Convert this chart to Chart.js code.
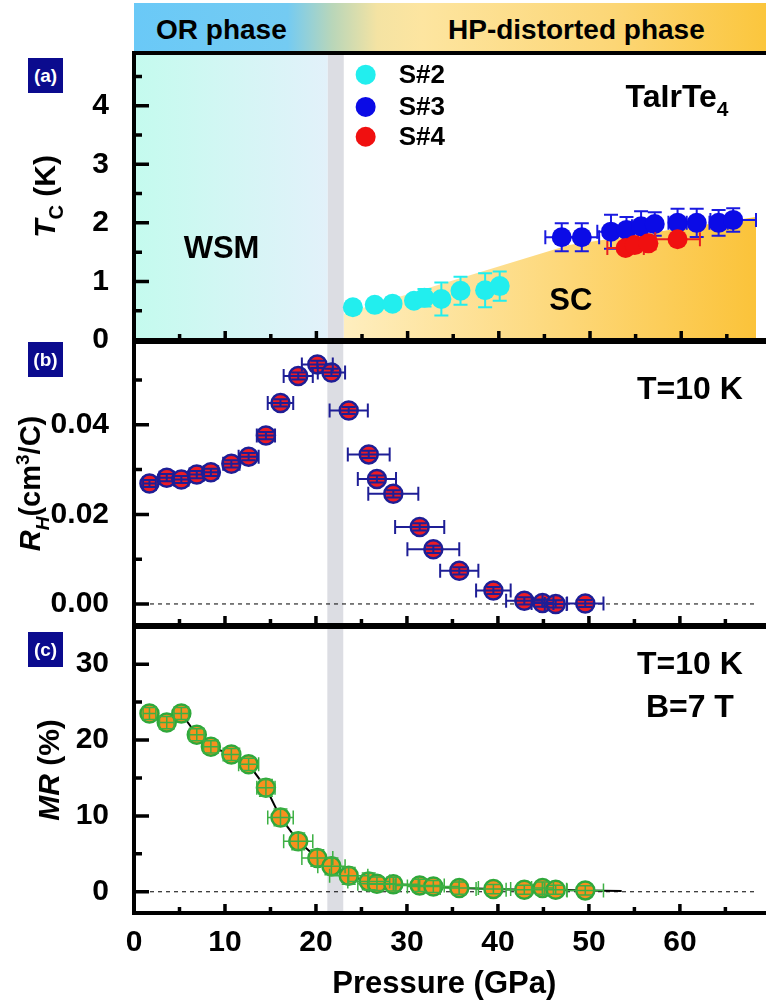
<!DOCTYPE html>
<html>
<head>
<meta charset="utf-8">
<title>TaIrTe4 under pressure</title>
<script src="https://cdn.jsdelivr.net/npm/chart.js@4.4.1/dist/chart.umd.min.js"></script>
<style>
  body { margin: 0; background: #fff; }
  #page { position: relative; width: 766px; height: 1003px; overflow: hidden; font-family: "Liberation Sans", Arial, sans-serif; }
  canvas { position: absolute; left: 0; }
  #phaseBar { position: absolute; left: 134px; top: 3px; width: 640px; height: 49px;
    background: linear-gradient(90deg, #6ac9f7 0%, #74cbf2 24%, #b9d6b9 31%, #f4e3a3 38%, #fde5a0 45%, #fcd676 75%, #fbc53a 100%); }
  .phaseText { position: absolute; top: 16px; font-weight: bold; font-size: 28px; line-height: 28px; color: #000; }
  .tag { position: absolute; left: 28px; width: 35px; height: 35px; background: #0b0b8e; color: #fff;
    font-weight: bold; font-size: 19px; text-align: center; line-height: 35px; }
</style>
</head>
<body>
<div id="page">
  <div id="phaseBar"></div>
  <div class="phaseText" style="left:156px">OR phase</div>
  <div class="phaseText" style="left:448px">HP-distorted phase</div>
  <canvas id="tcChart" width="766" height="380" style="top:0px"></canvas>
  <canvas id="rhChart" width="766" height="365" style="top:300px"></canvas>
  <canvas id="mrChart" width="766" height="418" style="top:585px"></canvas>
  <div class="tag" style="top:58px">(a)</div>
  <div class="tag" style="top:342px">(b)</div>
  <div class="tag" style="top:632px">(c)</div>
</div>
<script>
const FONT = '"Liberation Sans", Arial, sans-serif';

// pressure axis (GPa)
const xMax = 68.2;
const xMajor = [0, 10, 20, 30, 40, 50, 60];
const xMinor = [5, 15, 25, 35, 45, 55, 65];
const grayBand = [21.25, 23.0];

// (a) Tc vs pressure
const tcTicks = [0, 1, 2, 3, 4];
const tcMinor = [0.5, 1.5, 2.5, 3.5, 4.5];
const s2P = [24.0, 26.4, 28.35, 30.7, 31.85, 33.7, 35.8, 38.5, 40.1];
const s2Tc = [0.56, 0.60, 0.62, 0.67, 0.72, 0.70, 0.84, 0.85, 0.92];
const s2TcErr = [0, 0, 0.1, 0.1, 0.15, 0.28, 0.24, 0.29, 0.25];
const s3P = [46.9, 49.1, 52.3, 54.0, 55.6, 57.1, 59.6, 61.7, 64.1, 65.7];
const s3Tc = [1.755, 1.755, 1.85, 1.88, 1.94, 1.98, 2.0, 2.0, 2.0, 2.05];
const s3TcErr = [0.24, 0.24, 0.29, 0.22, 0.26, 0.2, 0.24, 0.24, 0.22, 0.2];
const s3PErr = [1.8, 1.9, 1.5, 0.6, 1.0, 0.6, 1.0, 0.6, 1.0, 2.5];
const s4P = [53.9, 54.9, 56.4, 59.6];
const s4Tc = [1.57, 1.62, 1.65, 1.72];
const s4PErr = [2.0, 0.6, 0.8, 2.45];
const wsmEndP = 21.25;
const scEdgeP = [23.0, 47.7, 68.2];
const scEdgeTc = [0.45, 1.62, 2.1];

// (b) Hall coefficient, T = 10 K and (c) MR, T = 10 K, B = 7 T
const pressure = [1.7, 3.6, 5.2, 6.9, 8.45, 10.7, 12.6, 14.5, 16.1, 18.05, 20.15, 21.7,
                  23.6, 25.8, 26.7, 28.5, 31.4, 32.9, 35.75, 39.5, 42.9, 44.9, 46.35, 49.6];
const pressureErr = [0.7, 0.8, 0.8, 0.8, 0.8, 0.9, 1.1, 1.0, 1.4, 1.6, 1.7, 1.5,
                     2.1, 2.3, 2.1, 2.75, 2.7, 2.85, 2.1, 1.9, 2.0, 1.2, 1.2, 2.0];
const rhTicks = [0, 0.02, 0.04];
const rhMinor = [0.01, 0.03, 0.05];
const rh = [0.0269, 0.0282, 0.0278, 0.0289, 0.0294, 0.0313, 0.0329, 0.0376, 0.0449, 0.0509, 0.0535, 0.0517,
            0.0432, 0.0334, 0.0279, 0.0246, 0.0172, 0.0122, 0.0074, 0.0030, 0.0007, 0.0002, 0.0000, 0.0001];
const rhErr = [0.0008, 0.0008, 0.0008, 0.0008, 0.0008, 0.0008, 0.0008, 0.0008, 0.0008, 0.0008, 0.0008, 0.0008,
               0.0008, 0.0008, 0.0008, 0.0008, 0.0008, 0.0008, 0.0008, 0.0008, 0.0008, 0.0008, 0.0008, 0.0008];
const mrTicks = [0, 10, 20, 30];
const mrMinor = [5, 15, 25];
const mr = [23.5, 22.3, 23.5, 20.7, 19.1, 18.1, 16.8, 13.7, 9.8, 6.65, 4.45, 3.35,
            2.1, 1.36, 1.05, 1.0, 0.84, 0.7, 0.48, 0.35, 0.26, 0.48, 0.26, 0.18];
const mrErr = [0.8, 0.8, 0.8, 0.8, 0.8, 0.8, 0.8, 1.1, 1.1, 1.1, 1.1, 1.1,
               1.1, 1.1, 0.9, 0.9, 0.8, 0.8, 0.8, 0.6, 0.6, 0.8, 0.6, 0.6];
const mrGuideEndP = 53.6;
const mrGuideEndMR = 0.1;

const pts = (xs, ys) => xs.map((x, i) => ({ x: x, y: ys[i] }));

// text with italic / sub / superscript pieces
function drawRich(ctx, parts, x, y, size, align) {
  const fonts = parts.map(p => {
    const sz = (p.sub || p.sup) ? Math.round(size * 0.65) : size;
    return (p.i ? 'italic ' : '') + 'bold ' + sz + 'px ' + FONT;
  });
  let w = 0;
  parts.forEach((p, k) => { ctx.font = fonts[k]; w += ctx.measureText(p.t).width; });
  let cx = align === 'center' ? x - w / 2 : (align === 'right' ? x - w : x);
  ctx.textAlign = 'left';
  ctx.textBaseline = 'alphabetic';
  ctx.fillStyle = '#000';
  parts.forEach((p, k) => {
    ctx.font = fonts[k];
    const dy = p.sub ? size * 0.28 : (p.sup ? -size * 0.4 : 0);
    ctx.fillText(p.t, cx, y + dy);
    cx += ctx.measureText(p.t).width;
  });
}

function drawErrorBars(chart, ds) {
  const ctx = chart.ctx, xs = chart.scales.x, ys = chart.scales.y;
  const cap = ds.errCap || 6;
  ctx.save();
  ctx.strokeStyle = ds.errColor;
  ctx.lineWidth = ds.errWidth || 2;
  ds.data.forEach((pt, i) => {
    const px = xs.getPixelForValue(pt.x), py = ys.getPixelForValue(pt.y);
    const ex = ds.errX ? ds.errX[i] : 0, ey = ds.errY ? ds.errY[i] : 0;
    ctx.beginPath();
    if (ex) {
      const l = xs.getPixelForValue(pt.x - ex), r = xs.getPixelForValue(pt.x + ex);
      ctx.moveTo(l, py); ctx.lineTo(r, py);
      ctx.moveTo(l, py - cap); ctx.lineTo(l, py + cap);
      ctx.moveTo(r, py - cap); ctx.lineTo(r, py + cap);
    }
    if (ey) {
      const t = ys.getPixelForValue(pt.y + ey), b = ys.getPixelForValue(pt.y - ey);
      ctx.moveTo(px, t); ctx.lineTo(px, b);
      ctx.moveTo(px - cap, t); ctx.lineTo(px + cap, t);
      ctx.moveTo(px - cap, b); ctx.lineTo(px + cap, b);
    }
    ctx.stroke();
  });
  ctx.restore();
}

const errorBarPlugin = {
  id: 'errorBars',
  beforeDatasetDraw(chart, args) {
    const ds = chart.data.datasets[args.index];
    if ((ds.errX || ds.errY) && !ds.errOnTop) drawErrorBars(chart, ds);
  },
  afterDatasetDraw(chart, args) {
    const ds = chart.data.datasets[args.index];
    if ((ds.errX || ds.errY) && ds.errOnTop) drawErrorBars(chart, ds);
  }
};

// shaded regions behind the data
const regionPlugin = {
  id: 'regions',
  beforeDatasetsDraw(chart, args, opts) {
    const { ctx, chartArea: a, scales: { x, y } } = chart;
    ctx.save();
    if (opts.wsm) {
      const x0 = x.getPixelForValue(0), x1 = x.getPixelForValue(wsmEndP);
      const g = ctx.createLinearGradient(x0, 0, x1, 0);
      g.addColorStop(0, '#c4fbee');
      g.addColorStop(1, '#e2f1fa');
      ctx.fillStyle = g;
      ctx.fillRect(x0, a.top, x1 - x0, a.bottom - a.top);
    }
    const b0 = x.getPixelForValue(grayBand[0]), b1 = x.getPixelForValue(grayBand[1]);
    ctx.fillStyle = '#dcdde3';
    ctx.fillRect(b0, a.top, b1 - b0, a.bottom - a.top);
    if (opts.zeroLine) {
      const py = y.getPixelForValue(0);
      ctx.strokeStyle = '#000';
      ctx.lineWidth = 1;
      ctx.setLineDash([4, 4]);
      ctx.beginPath();
      ctx.moveTo(a.left, py); ctx.lineTo(a.right, py);
      ctx.stroke();
    }
    ctx.restore();
  }
};

// axis frame with inward ticks, titles and notes
const framePlugin = {
  id: 'frame',
  afterDatasetsDraw(chart, args, opts) {
    const { ctx, chartArea: a, scales: { x, y } } = chart;
    ctx.save();
    ctx.strokeStyle = '#000';
    ctx.lineWidth = 4;
    ctx.lineCap = 'square';
    ctx.beginPath();
    ctx.moveTo(a.right + 10, a.top); ctx.lineTo(a.left, a.top);
    ctx.lineTo(a.left, a.bottom); ctx.lineTo(a.right + 10, a.bottom);
    ctx.stroke();
    ctx.lineCap = 'butt';
    ctx.lineWidth = 3.5;
    ctx.beginPath();
    xMajor.forEach(v => { if (v > 0) { const p = x.getPixelForValue(v); ctx.moveTo(p, a.bottom); ctx.lineTo(p, a.bottom - 9); } });
    xMinor.forEach(v => { const p = x.getPixelForValue(v); ctx.moveTo(p, a.bottom); ctx.lineTo(p, a.bottom - 6); });
    opts.yMajor.forEach(v => { const p = y.getPixelForValue(v); ctx.moveTo(a.left, p); ctx.lineTo(a.left + 15, p); });
    opts.yMinor.forEach(v => { const p = y.getPixelForValue(v); ctx.moveTo(a.left, p); ctx.lineTo(a.left + 8, p); });
    ctx.stroke();

    // rotated y title
    ctx.save();
    ctx.translate(opts.titleX, (a.top + a.bottom) / 2);
    ctx.rotate(-Math.PI / 2);
    drawRich(ctx, opts.title, 0, opts.titleSize * 0.36, opts.titleSize, 'center');
    ctx.restore();

    (opts.notes || []).forEach(n => {
      drawRich(ctx, n.parts, x.getPixelForValue(n.x), y.getPixelForValue(n.y), n.size, n.align);
    });
    (opts.legend || []).forEach(l => {
      const px = x.getPixelForValue(l.x), py = y.getPixelForValue(l.y);
      ctx.fillStyle = l.color;
      ctx.beginPath();
      ctx.arc(px, py, 10, 0, Math.PI * 2);
      ctx.fill();
      ctx.fillStyle = '#000';
      ctx.font = 'bold 26px ' + FONT;
      ctx.textAlign = 'left';
      ctx.textBaseline = 'middle';
      ctx.fillText(l.text, px + 33, py + 1);
    });
    ctx.restore();
  }
};

Chart.register(errorBarPlugin, regionPlugin, framePlugin);
Chart.defaults.font.family = FONT;

function yScale(min, max, ticks, fmt) {
  return {
    min: min, max: max,
    afterFit: s => { s.width = 134; },
    afterBuildTicks: s => { s.ticks = ticks.map(v => ({ value: v })); },
    grid: { display: false }, border: { display: false },
    ticks: { color: '#000', font: { size: 30, weight: 'bold' }, padding: 17, callback: fmt }
  };
}

function baseOptions(pad, scales, plugins) {
  return {
    responsive: false, animation: false, devicePixelRatio: 1, events: [],
    layout: { padding: pad },
    scales: scales,
    plugins: Object.assign({ legend: { display: false }, tooltip: { enabled: false } }, plugins)
  };
}

const hiddenX = { type: 'linear', min: 0, max: xMax, display: false };

// (a)
new Chart(document.getElementById('tcChart'), {
  type: 'scatter',
  data: {
    datasets: [
      { label: 'S#2', data: pts(s2P, s2Tc), errY: s2TcErr, errColor: '#22eeee', errWidth: 2, errCap: 7,
        pointRadius: 10, backgroundColor: '#22eeee', borderColor: '#22eeee', borderWidth: 0, order: 3 },
      { label: 'S#3', data: pts(s3P, s3Tc), errX: s3PErr, errY: s3TcErr, errColor: '#1a1ae0', errWidth: 2, errCap: 7,
        pointRadius: 10, backgroundColor: '#0b0be6', borderColor: '#0b0be6', borderWidth: 0, order: 2 },
      { label: 'S#4', data: pts(s4P, s4Tc), errX: s4PErr, errColor: '#e82020', errWidth: 2, errCap: 7,
        pointRadius: 10, backgroundColor: '#f01010', borderColor: '#f01010', borderWidth: 0, order: 1 },
      { type: 'line', label: 'SC', data: pts(scEdgeP, scEdgeTc), fill: 'origin', pointRadius: 0, borderWidth: 0,
        order: 10,
        backgroundColor: c => {
          const ch = c.chart;
          if (!ch.chartArea) return '#fdd87a';
          const g = ch.ctx.createLinearGradient(ch.scales.x.getPixelForValue(scEdgeP[0]), 0, ch.chartArea.right, 0);
          g.addColorStop(0, '#feeebf');
          g.addColorStop(0.55, '#fdd777');
          g.addColorStop(1, '#fbc33a');
          return g;
        } }
    ]
  },
  options: baseOptions({ top: 53, bottom: 40, left: 0, right: 0 },
    { x: hiddenX, y: yScale(0, 4.9, tcTicks) },
    {
      regions: { wsm: true },
      frame: {
        yMajor: tcTicks, yMinor: tcMinor, titleX: 44, titleSize: 30,
        title: [{ t: 'T', i: true }, { t: 'C', sub: true }, { t: ' (K)' }],
        notes: [
          { parts: [{ t: 'TaIrTe' }, { t: '4', sub: true }], x: 53.9, y: 3.98, size: 32, align: 'left' },
          { parts: [{ t: 'WSM' }], x: 9.6, y: 1.40, size: 31, align: 'center' },
          { parts: [{ t: 'SC' }], x: 47.9, y: 0.51, size: 31, align: 'center' }
        ],
        legend: [
          { text: 'S#2', color: '#22eeee', x: 25.4, y: 4.53 },
          { text: 'S#3', color: '#0b0be6', x: 25.4, y: 3.98 },
          { text: 'S#4', color: '#f01010', x: 25.4, y: 3.47 }
        ]
      }
    })
});

// (b)
new Chart(document.getElementById('rhChart'), {
  type: 'scatter',
  data: {
    datasets: [
      { label: 'RH', data: pts(pressure, rh), errX: pressureErr, errY: rhErr, errOnTop: true,
        errColor: '#1e1e96', errWidth: 2, errCap: 7,
        pointRadius: 9, backgroundColor: '#ec1c24', borderColor: '#1e1e96', borderWidth: 2.5 }
    ]
  },
  options: baseOptions({ top: 42, bottom: 40, left: 0, right: 0 },
    { x: hiddenX, y: yScale(-0.0047, 0.0585, rhTicks, v => v.toFixed(2)) },
    {
      regions: { zeroLine: true },
      frame: {
        yMajor: rhTicks, yMinor: rhMinor, titleX: 30, titleSize: 29,
        title: [{ t: 'R', i: true }, { t: 'H', i: true, sub: true }, { t: '(cm' }, { t: '3', sup: true }, { t: '/C)' }],
        notes: [
          { parts: [{ t: 'T=10 K' }], x: 61.1, y: 0.0457, size: 32, align: 'center' }
        ]
      }
    })
});

// (c)
new Chart(document.getElementById('mrChart'), {
  type: 'scatter',
  data: {
    datasets: [
      { label: 'MR', data: pts(pressure, mr), errX: pressureErr, errY: mrErr, errOnTop: true,
        errColor: '#3cb043', errWidth: 1.5, errCap: 7,
        pointRadius: 9, backgroundColor: '#f7901e', borderColor: '#2fa83a', borderWidth: 2.5, order: 1 },
      { type: 'line', label: 'guide', data: pts(pressure.concat([mrGuideEndP]), mr.concat([mrGuideEndMR])),
        borderColor: '#000', borderWidth: 2, pointRadius: 0, fill: false, order: 5 }
    ]
  },
  options: baseOptions({ top: 42, bottom: 0, left: 0, right: 0 },
    {
      x: {
        type: 'linear', min: 0, max: xMax,
        afterFit: s => { s.height = 90; },
        afterBuildTicks: s => { s.ticks = xMajor.map(v => ({ value: v })); },
        grid: { display: false }, border: { display: false },
        ticks: { color: '#000', font: { size: 30, weight: 'bold' }, padding: 4, maxRotation: 0, autoSkip: false },
        title: { display: true, text: 'Pressure (GPa)', color: '#000', font: { size: 31, weight: 'bold' },
                 padding: { top: 0, bottom: 0 } }
      },
      y: yScale(-2.8, 34.9, mrTicks)
    },
    {
      regions: { zeroLine: true },
      frame: {
        yMajor: mrTicks, yMinor: mrMinor, titleX: 48, titleSize: 30,
        title: [{ t: 'MR', i: true }, { t: ' (%)' }],
        notes: [
          { parts: [{ t: 'T=10 K' }], x: 61.1, y: 28.7, size: 32, align: 'center' },
          { parts: [{ t: 'B=7 T' }], x: 61.1, y: 23.0, size: 32, align: 'center' }
        ]
      }
    })
});
</script>
</body>
</html>
